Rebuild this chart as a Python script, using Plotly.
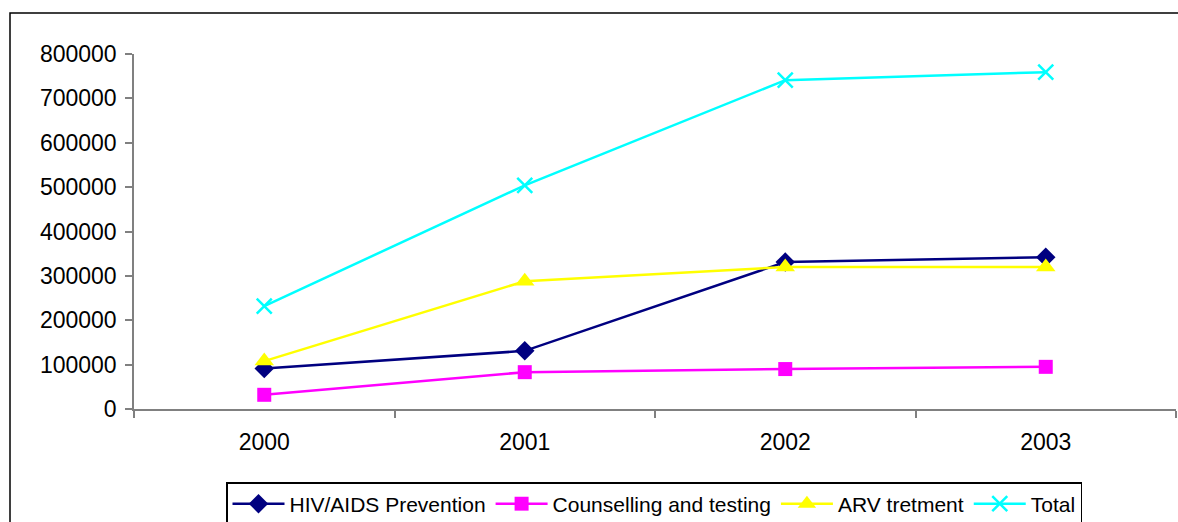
import plotly.graph_objects as go

years = ["2000", "2001", "2002", "2003"]
hiv_prevention = [91000, 131000, 331000, 342000]
counselling = [32000, 83000, 90000, 95000]
arv_treatment = [108000, 288000, 320000, 320000]
total = [232000, 504000, 741000, 759000]
y_ticks = [0, 100000, 200000, 300000, 400000, 500000, 600000, 700000, 800000]

FONT = "Liberation Sans, Arial, sans-serif"

fig = go.Figure()
fig.add_trace(go.Scatter(x=years, y=hiv_prevention, name="HIV/AIDS Prevention", mode="lines+markers",
                         line=dict(color="#000080", width=2.5),
                         marker=dict(symbol="diamond", size=15, color="#000080")))
fig.add_trace(go.Scatter(x=years, y=counselling, name="Counselling and testing", mode="lines+markers",
                         line=dict(color="#FF00FF", width=2.5),
                         marker=dict(symbol="square", size=14, color="#FF00FF")))
fig.add_trace(go.Scatter(x=years, y=arv_treatment, name="ARV tretment", mode="lines+markers",
                         line=dict(color="#FFFF00", width=2.5),
                         marker=dict(symbol="triangle-up", size=17, color="#FFFF00")))
fig.add_trace(go.Scatter(x=years, y=total, name="Total", mode="lines+markers",
                         line=dict(color="#00FFFF", width=2.5),
                         marker=dict(symbol="x-thin-open", size=15, color="#00FFFF",
                                     line=dict(color="#00FFFF", width=2.5))))

L, R, T, B = 134, 2, 54, 113
W, H = 1178, 522
pw = W - L - R
ph = H - T - B

fig.update_layout(
    width=W, height=H,
    margin=dict(l=L, r=R, t=T, b=B, autoexpand=False),
    paper_bgcolor="white", plot_bgcolor="white",
    font=dict(family=FONT, size=23, color="black"),
    showlegend=True,
    legend=dict(orientation="h", x=(654 - L) / pw, xanchor="center",
                yref="container", y=(H - 482) / H, yanchor="top",
                bordercolor="black", borderwidth=1.5, bgcolor="white",
                font=dict(family=FONT, size=21), itemwidth=52,
                tracegroupgap=0),
    xaxis=dict(type="category", categoryorder="array", categoryarray=years,
               range=[-0.5, 3.5], showgrid=False, zeroline=False, automargin=False,
               showline=True, linecolor="#808080", linewidth=1.5,
               ticks="outside", tickson="boundaries", ticklen=7, tickcolor="#808080", tickwidth=1.5,
               ticklabelstandoff=12, tickfont=dict(size=23)),
    yaxis=dict(range=[0, 800000], tickvals=y_ticks, tickformat="d",
               showgrid=False, zeroline=False, automargin=False,
               showline=True, linecolor="#808080", linewidth=1.5,
               ticks="outside", ticklen=7, tickcolor="#808080", tickwidth=1.5,
               ticklabelstandoff=4, tickfont=dict(size=23)),
    shapes=[dict(type="rect", xref="paper", yref="paper",
                 x0=(10 - L) / pw, x1=(W + 5 - L) / pw,
                 y0=(H - B - (H + 5)) / ph, y1=(H - B - 13) / ph,
                 line=dict(color="black", width=1.5), layer="below")],
)

fig.write_html("out.html", config={"displayModeBar": False},
               post_script="document.body.style.margin='0';document.body.style.overflow='hidden';")
